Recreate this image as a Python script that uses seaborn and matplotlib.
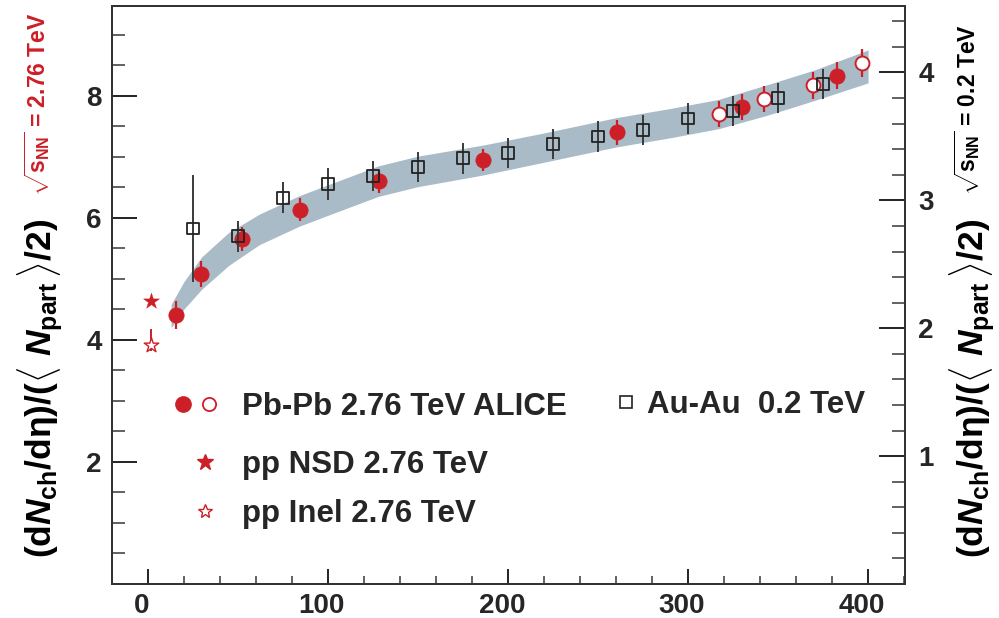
import numpy as np
import pandas as pd
import matplotlib
matplotlib.use("Agg")
import matplotlib.pyplot as plt
import matplotlib.transforms as mtransforms
import seaborn as sns
from matplotlib.lines import Line2D
from matplotlib.legend_handler import HandlerTuple
from matplotlib.ticker import MultipleLocator, FixedLocator

# ---------------- data ----------------
pbpb_npart = [15.6, 29.8, 52.6, 84.4, 128.5, 186.3, 260.4, 330.2, 383.0]
pbpb_val = [4.40, 5.08, 5.65, 6.13, 6.60, 6.94, 7.40, 7.82, 8.33]
pbpb_err = [0.23, 0.21, 0.20, 0.19, 0.19, 0.18, 0.20, 0.21, 0.22]

pbpb_fine_npart = [317.0, 342.4, 369.3, 396.5]
pbpb_fine_val = [7.70, 7.95, 8.17, 8.53]
pbpb_fine_err = [0.21, 0.21, 0.22, 0.23]

pp_npart = [2.0]
pp_nsd_val = [4.63]
pp_inel_val = [3.91]
pp_inel_err_lo = [0.10]
pp_inel_err_hi = [0.27]

auau_npart = [25, 50, 75, 100, 125, 150, 175, 200, 225, 250, 275, 300, 325, 350, 375]
auau_val = [2.78, 2.72, 3.02, 3.13, 3.19, 3.26, 3.33, 3.37, 3.44, 3.50, 3.55, 3.64, 3.70, 3.80, 3.91]
auau_err = [0.42, 0.12, 0.12, 0.125, 0.12, 0.12, 0.12, 0.12, 0.12, 0.12, 0.12, 0.12, 0.12, 0.12, 0.12]

band_npart = [13, 20, 30, 45, 62, 84, 100, 128, 150, 186, 220, 260, 290, 317, 344, 370, 400]
band_hi = [4.58, 4.95, 5.36, 5.76, 6.06, 6.36, 6.54, 6.85, 7.01, 7.19, 7.39, 7.64, 7.79, 7.94, 8.18, 8.42, 8.75]
band_lo = [4.20, 4.50, 4.83, 5.22, 5.56, 5.86, 6.04, 6.35, 6.51, 6.70, 6.91, 7.16, 7.31, 7.46, 7.68, 7.92, 8.21]

x_ticks = [0, 100, 200, 300, 400]
yl_ticks = [2, 4, 6, 8]
yr_ticks = [1, 2, 3, 4]

RED = "#cc1f27"
BAND = "#a9bbc7"
DARK = "#222222"

# ---------------- style ----------------
sns.set_theme(style="ticks")
plt.rcParams["font.family"] = ["Liberation Sans", "DejaVu Sans"]
plt.rcParams["font.weight"] = "bold"
plt.rcParams["mathtext.fontset"] = "custom"
plt.rcParams["mathtext.rm"] = "Liberation Sans:bold"
plt.rcParams["mathtext.bf"] = "Liberation Sans:bold"
plt.rcParams["mathtext.sf"] = "Liberation Sans:bold"
plt.rcParams["mathtext.it"] = "Liberation Sans:bold:italic"

fig = plt.figure(figsize=(9.99, 6.18), dpi=100)
ax = fig.add_axes([0.1118, 0.0550, 0.7941, 0.9353])
ax2 = ax.twinx()

# band
band = pd.DataFrame({"npart": band_npart, "hi": band_hi, "lo": band_lo})
ax.fill_between(band["npart"], band["lo"], band["hi"], color=BAND, lw=0, zorder=1)

# Pb-Pb
df_pb = pd.DataFrame({"npart": pbpb_npart, "val": pbpb_val, "err": pbpb_err})
df_pbf = pd.DataFrame({"npart": pbpb_fine_npart, "val": pbpb_fine_val, "err": pbpb_fine_err})
ax.errorbar(df_pb["npart"], df_pb["val"], yerr=df_pb["err"], fmt="none",
            ecolor=RED, elinewidth=1.6, capsize=0, zorder=2)
ax.errorbar(df_pbf["npart"], df_pbf["val"], yerr=df_pbf["err"], fmt="none",
            ecolor=RED, elinewidth=1.6, capsize=0, zorder=2)
sns.scatterplot(data=df_pb, x="npart", y="val", ax=ax, marker="o", s=11 ** 2,
                color=RED, edgecolor=RED, linewidth=0.5, zorder=3, legend=False)
sns.scatterplot(data=df_pbf, x="npart", y="val", ax=ax, marker="o", s=10 ** 2,
                color=RED, facecolor="white", edgecolor=RED, linewidth=1.4, zorder=3,
                legend=False)

# pp
df_pp = pd.DataFrame({"npart": pp_npart, "nsd": pp_nsd_val, "inel": pp_inel_val})
ax.errorbar(df_pp["npart"], df_pp["inel"], yerr=[pp_inel_err_lo, pp_inel_err_hi],
            fmt="none", ecolor=RED, elinewidth=1.4, capsize=0, zorder=2)
sns.scatterplot(data=df_pp, x="npart", y="nsd", ax=ax, marker="*", s=12 ** 2,
                color=RED, edgecolor=RED, linewidth=0.3, zorder=3, legend=False)
sns.scatterplot(data=df_pp, x="npart", y="inel", ax=ax, marker="*", s=11 ** 2,
                color=RED, facecolor="white", edgecolor=RED, linewidth=1.0, zorder=3,
                legend=False)

# Au-Au on right axis
df_au = pd.DataFrame({"npart": auau_npart, "val": auau_val, "err": auau_err})
ax2.errorbar(df_au["npart"], df_au["val"], yerr=df_au["err"], fmt="none",
             ecolor="#3a3a3a", elinewidth=1.4, capsize=0, zorder=2)
sns.scatterplot(data=df_au, x="npart", y="val", ax=ax2, marker="s", s=8.5 ** 2,
                color=DARK, facecolor="none", edgecolor=DARK, linewidth=1.3, zorder=3,
                legend=False)

# ---------------- axes ----------------
ax.set_xlim(-20, 420.5)
ax.set_ylim(0, 9.47)
ax2.set_ylim(0, 4.52)
ax.set_xlabel("")
ax.set_ylabel("")
ax2.set_ylabel("")

ax.xaxis.set_major_locator(FixedLocator(x_ticks))
ax.xaxis.set_minor_locator(MultipleLocator(20))
ax.yaxis.set_major_locator(FixedLocator(yl_ticks))
ax.yaxis.set_minor_locator(MultipleLocator(0.5))
ax2.yaxis.set_major_locator(FixedLocator(yr_ticks))
ax2.yaxis.set_minor_locator(MultipleLocator(0.2))

for a in (ax, ax2):
    for s in a.spines.values():
        s.set_visible(True)
        s.set_linewidth(1.4)
        s.set_color("#333333")

ax.tick_params(axis="x", which="major", direction="in", length=10.5, width=1.4,
               labelsize=20, pad=6.5, top=False, color="#222222")
ax.tick_params(axis="x", which="minor", direction="in", length=5.8, width=1.3,
               top=False, color="#555555")
ax.tick_params(axis="y", which="major", direction="in", length=18, width=1.4,
               labelsize=20, pad=7, right=False, color="#222222")
ax.tick_params(axis="y", which="minor", direction="in", length=9, width=1.3,
               right=False, color="#555555")
ax2.tick_params(axis="y", which="major", direction="in", length=19, width=1.4,
                labelsize=20, pad=9.5, color="#222222")
ax2.tick_params(axis="y", which="minor", direction="in", length=9.5, width=1.3,
                color="#555555")
for lab in ax.get_xticklabels() + ax.get_yticklabels() + ax2.get_yticklabels():
    lab.set_fontweight("bold")
# x tick labels sit slightly left of their ticks in the reference
shift = mtransforms.ScaledTranslation(-6 / 100, 0, fig.dpi_scale_trans)
for lab in ax.get_xticklabels():
    lab.set_transform(lab.get_transform() + shift)

# ---------------- legends ----------------
prop = {"family": "Liberation Sans", "weight": "bold", "size": 22.5}
h_fc = Line2D([], [], ls="none", marker="o", ms=11, mfc=RED, mec=RED)
h_oc = Line2D([], [], ls="none", marker="o", ms=9.5, mfc="white", mec=RED, mew=1.3)
h_fs = Line2D([], [], ls="none", marker="*", ms=12, mfc=RED, mec=RED)
h_os = Line2D([], [], ls="none", marker="*", ms=10, mfc="white", mec=RED, mew=1.0)
h_sq = Line2D([], [], ls="none", marker="s", ms=8, mfc="none", mec=DARK, mew=1.2)

common = dict(loc="center left", frameon=False, borderpad=0, borderaxespad=0,
              prop=prop, numpoints=1)
leg1 = ax2.legend([(h_fc, h_oc)], ["Pb-Pb 2.76 TeV ALICE"],
                  handler_map={tuple: HandlerTuple(ndivide=None, pad=0)},
                  bbox_to_anchor=(0.0727, 0.3055), handlelength=1.70,
                  handletextpad=0.611, **common)
ax2.add_artist(leg1)
leg2 = ax2.legend([h_fs], ["pp NSD 2.76 TeV"], bbox_to_anchor=(0.0979, 0.2055),
                  handlelength=1.0, handletextpad=0.675, **common)
ax2.add_artist(leg2)
leg3 = ax2.legend([h_os], ["pp Inel 2.76 TeV"], bbox_to_anchor=(0.0979, 0.1205),
                  handlelength=1.0, handletextpad=0.675, **common)
ax2.add_artist(leg3)
leg4 = ax2.legend([h_sq], ["Au-Au  0.2 TeV"], bbox_to_anchor=(0.6325, 0.3100),
                  handlelength=0.8, handletextpad=0.262, **common)

# ---------------- axis titles ----------------
ylab = r"$(\mathrm{d}N_{\mathrm{ch}}/\mathrm{d\eta})/(\langle\ N_{\mathrm{part}}\,\rangle/2)$"
fig.text(40 / 999, 1 - 388 / 618, ylab, rotation=90, ha="center", va="center",
         fontsize=25.5, color="black")
fig.text(972 / 999, 1 - 388 / 618, ylab, rotation=90, ha="center", va="center",
         fontsize=25.5, color="black")
fig.text(37.5 / 999, 1 - 104 / 618, r"$\sqrt{\mathrm{s}_{\mathrm{NN}}}$ = 2.76 TeV",
         rotation=90, ha="center", va="center", fontsize=16.5, color=RED,
         fontweight="bold")
fig.text(967.5 / 999, 1 - 110 / 618, r"$\sqrt{\mathrm{s}_{\mathrm{NN}}}$ = 0.2 TeV",
         rotation=90, ha="center", va="center", fontsize=16.5, color="black",
         fontweight="bold")

fig.savefig("out.png", dpi=100)
